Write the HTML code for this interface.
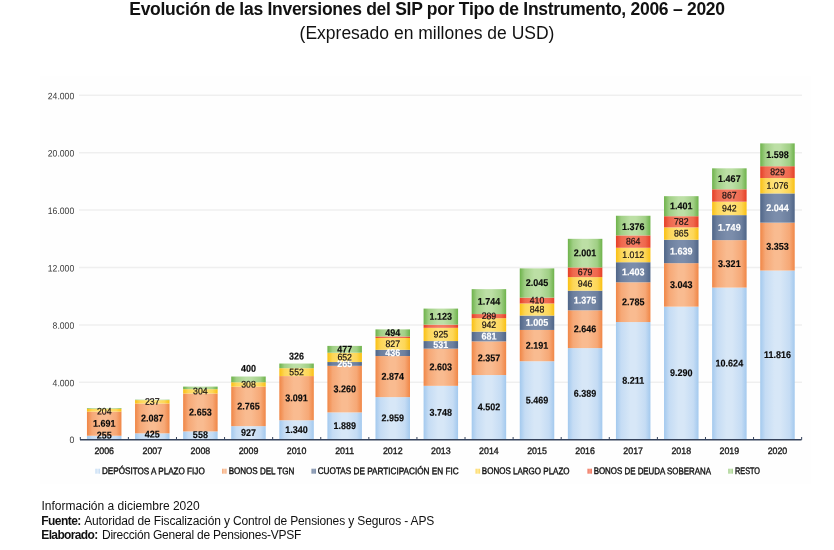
<!DOCTYPE html>
<html lang="es"><head><meta charset="utf-8"><title>Evolución de las Inversiones del SIP</title>
<style>
html,body{margin:0;padding:0;background:#fff;}
body{width:834px;height:550px;overflow:hidden;position:relative;font-family:"Liberation Sans",sans-serif;color:#111;}
.t1{position:absolute;left:0;width:854px;top:-2px;text-align:center;font-weight:bold;font-size:17.5px;letter-spacing:-0.28px;line-height:22px;white-space:nowrap;}
.t2{position:absolute;left:0;width:854px;top:21.5px;text-align:center;font-size:17.5px;line-height:22px;white-space:nowrap;}
.f{position:absolute;font-size:12px;line-height:14px;white-space:nowrap;}
svg{position:absolute;left:0;top:0;}
svg text{font-family:"Liberation Sans",sans-serif;}
.ax{font-size:9.3px;fill:#3a3a3a;}
.yr{font-size:9.3px;fill:#1a1a1a;stroke:#1a1a1a;stroke-width:0.35;}
.lb{font-size:9.8px;font-weight:bold;fill:#0a0a0a;stroke:#0a0a0a;stroke-width:0.15;}
.lw{font-size:9.8px;font-weight:bold;fill:#fff;stroke:#fff;stroke-width:0.15;}
.lr{font-size:9.5px;fill:#1a1212;stroke:#1a1212;stroke-width:0.22;}
.lg{font-size:9.5px;fill:#111;stroke:#111;stroke-width:0.4;}
</style></head><body>
<div class="t1">Evolución de las Inversiones del SIP por Tipo de Instrumento, 2006 – 2020</div>
<div class="t2">(Expresado en millones de USD)</div>
<svg width="834" height="550" viewBox="0 0 834 550">
<defs>
<linearGradient id="gb" x1="0" x2="1" y1="0" y2="0"><stop offset="0" stop-color="#a3c9ee"/><stop offset="0.15" stop-color="#c5dcf4"/><stop offset="0.42" stop-color="#d7e7f7"/><stop offset="0.58" stop-color="#d7e7f7"/><stop offset="0.85" stop-color="#c5dcf4"/><stop offset="1" stop-color="#a3c9ee"/></linearGradient>
<linearGradient id="go" x1="0" x2="1" y1="0" y2="0"><stop offset="0" stop-color="#f08646"/><stop offset="0.15" stop-color="#f6a876"/><stop offset="0.42" stop-color="#f9bb90"/><stop offset="0.58" stop-color="#f9bb90"/><stop offset="0.85" stop-color="#f6a876"/><stop offset="1" stop-color="#f08646"/></linearGradient>
<linearGradient id="gs" x1="0" x2="1" y1="0" y2="0"><stop offset="0" stop-color="#4f6587"/><stop offset="0.15" stop-color="#6c7f9e"/><stop offset="0.42" stop-color="#7b8dab"/><stop offset="0.58" stop-color="#7b8dab"/><stop offset="0.85" stop-color="#6c7f9e"/><stop offset="1" stop-color="#4f6587"/></linearGradient>
<linearGradient id="gy" x1="0" x2="1" y1="0" y2="0"><stop offset="0" stop-color="#f9c013"/><stop offset="0.15" stop-color="#fdd656"/><stop offset="0.42" stop-color="#ffe27a"/><stop offset="0.58" stop-color="#ffe27a"/><stop offset="0.85" stop-color="#fdd656"/><stop offset="1" stop-color="#f9c013"/></linearGradient>
<linearGradient id="gr" x1="0" x2="1" y1="0" y2="0"><stop offset="0" stop-color="#e53f26"/><stop offset="0.15" stop-color="#ef674d"/><stop offset="0.42" stop-color="#f47c62"/><stop offset="0.58" stop-color="#f47c62"/><stop offset="0.85" stop-color="#ef674d"/><stop offset="1" stop-color="#e53f26"/></linearGradient>
<linearGradient id="gg" x1="0" x2="1" y1="0" y2="0"><stop offset="0" stop-color="#6db24a"/><stop offset="0.15" stop-color="#a0cf85"/><stop offset="0.42" stop-color="#bcdfa5"/><stop offset="0.58" stop-color="#bcdfa5"/><stop offset="0.85" stop-color="#a0cf85"/><stop offset="1" stop-color="#6db24a"/></linearGradient>
</defs>
<rect x="40" y="76" width="771" height="408" fill="#fefefe"/>
<line x1="79" x2="802" y1="382.30" y2="382.30" stroke="#efefef" stroke-width="1.5"/>
<line x1="79" x2="802" y1="324.90" y2="324.90" stroke="#efefef" stroke-width="1.5"/>
<line x1="79" x2="802" y1="267.50" y2="267.50" stroke="#efefef" stroke-width="1.5"/>
<line x1="79" x2="802" y1="210.10" y2="210.10" stroke="#efefef" stroke-width="1.5"/>
<line x1="79" x2="802" y1="152.70" y2="152.70" stroke="#efefef" stroke-width="1.5"/>
<line x1="79" x2="802" y1="95.30" y2="95.30" stroke="#efefef" stroke-width="1.5"/>
<text class="ax" transform="translate(74.2,442.90) rotate(0.05) scale(0.93,1)" text-anchor="end">0</text>
<text class="ax" transform="translate(74.2,386.20) rotate(0.05) scale(0.93,1)" text-anchor="end">4.000</text>
<text class="ax" transform="translate(74.2,328.80) rotate(0.05) scale(0.93,1)" text-anchor="end">8.000</text>
<text class="ax" transform="translate(74.2,271.40) rotate(0.05) scale(0.93,1)" text-anchor="end">12.000</text>
<text class="ax" transform="translate(74.2,214.00) rotate(0.05) scale(0.93,1)" text-anchor="end">16.000</text>
<text class="ax" transform="translate(74.2,156.60) rotate(0.05) scale(0.93,1)" text-anchor="end">20.000</text>
<text class="ax" transform="translate(74.2,99.20) rotate(0.05) scale(0.93,1)" text-anchor="end">24.000</text>
<rect x="86.95" y="435.76" width="34.5" height="3.64" fill="url(#gb)"/>
<rect x="86.95" y="411.59" width="34.5" height="24.16" fill="url(#go)"/>
<rect x="86.95" y="408.68" width="34.5" height="2.92" fill="url(#gy)"/>
<rect x="86.95" y="408.03" width="34.5" height="0.64" fill="url(#gg)"/>
<text class="lb" transform="translate(104.20,438.60) rotate(0.05) scale(0.92,1)" text-anchor="middle">255</text>
<text class="lb" transform="translate(104.20,426.77) rotate(0.05) scale(0.92,1)" text-anchor="middle">1.691</text>
<text class="lr" transform="translate(104.20,414.60) rotate(0.05) scale(0.92,1)" text-anchor="middle">204</text>
<rect x="135.04" y="433.33" width="34.5" height="6.07" fill="url(#gb)"/>
<rect x="135.04" y="403.50" width="34.5" height="29.82" fill="url(#go)"/>
<rect x="135.04" y="400.12" width="34.5" height="3.39" fill="url(#gy)"/>
<rect x="135.04" y="399.69" width="34.5" height="0.43" fill="url(#gg)"/>
<text class="lb" transform="translate(152.29,437.50) rotate(0.05) scale(0.92,1)" text-anchor="middle">425</text>
<text class="lb" transform="translate(152.29,421.52) rotate(0.05) scale(0.92,1)" text-anchor="middle">2.087</text>
<text class="lr" transform="translate(152.29,404.81) rotate(0.05) scale(0.92,1)" text-anchor="middle">237</text>
<rect x="183.13" y="431.43" width="34.5" height="7.97" fill="url(#gb)"/>
<rect x="183.13" y="393.51" width="34.5" height="37.91" fill="url(#go)"/>
<rect x="183.13" y="389.17" width="34.5" height="4.34" fill="url(#gy)"/>
<rect x="183.13" y="386.60" width="34.5" height="2.57" fill="url(#gg)"/>
<text class="lb" transform="translate(200.38,437.90) rotate(0.05) scale(0.92,1)" text-anchor="middle">558</text>
<text class="lb" transform="translate(200.38,415.57) rotate(0.05) scale(0.92,1)" text-anchor="middle">2.653</text>
<text class="lr" transform="translate(200.38,394.34) rotate(0.05) scale(0.92,1)" text-anchor="middle">304</text>
<rect x="231.22" y="426.15" width="34.5" height="13.25" fill="url(#gb)"/>
<rect x="231.22" y="386.64" width="34.5" height="39.51" fill="url(#go)"/>
<rect x="231.22" y="382.24" width="34.5" height="4.40" fill="url(#gy)"/>
<rect x="231.22" y="376.52" width="34.5" height="5.72" fill="url(#gg)"/>
<text class="lb" transform="translate(248.47,435.88) rotate(0.05) scale(0.92,1)" text-anchor="middle">927</text>
<text class="lb" transform="translate(248.47,409.50) rotate(0.05) scale(0.92,1)" text-anchor="middle">2.765</text>
<text class="lr" transform="translate(248.47,387.44) rotate(0.05) scale(0.92,1)" text-anchor="middle">308</text>
<text class="lb" transform="translate(248.47,371.70) rotate(0.05) scale(0.92,1)" text-anchor="middle">400</text>
<rect x="279.31" y="420.25" width="34.5" height="19.15" fill="url(#gb)"/>
<rect x="279.31" y="376.08" width="34.5" height="44.17" fill="url(#go)"/>
<rect x="279.31" y="368.19" width="34.5" height="7.89" fill="url(#gy)"/>
<rect x="279.31" y="363.53" width="34.5" height="4.66" fill="url(#gg)"/>
<text class="lb" transform="translate(296.56,432.93) rotate(0.05) scale(0.92,1)" text-anchor="middle">1.340</text>
<text class="lb" transform="translate(296.56,401.27) rotate(0.05) scale(0.92,1)" text-anchor="middle">3.091</text>
<text class="lr" transform="translate(296.56,375.14) rotate(0.05) scale(0.92,1)" text-anchor="middle">552</text>
<text class="lb" transform="translate(296.56,359.50) rotate(0.05) scale(0.92,1)" text-anchor="middle">326</text>
<rect x="327.40" y="412.41" width="34.5" height="26.99" fill="url(#gb)"/>
<rect x="327.40" y="365.82" width="34.5" height="46.59" fill="url(#go)"/>
<rect x="327.40" y="362.03" width="34.5" height="3.79" fill="url(#gs)"/>
<rect x="327.40" y="352.72" width="34.5" height="9.32" fill="url(#gy)"/>
<rect x="327.40" y="345.90" width="34.5" height="6.82" fill="url(#gg)"/>
<text class="lb" transform="translate(344.65,429.00) rotate(0.05) scale(0.92,1)" text-anchor="middle">1.889</text>
<text class="lb" transform="translate(344.65,392.21) rotate(0.05) scale(0.92,1)" text-anchor="middle">3.260</text>
<text class="lw" transform="translate(344.65,367.03) rotate(0.05) scale(0.92,1)" text-anchor="middle">265</text>
<text class="lr" transform="translate(344.65,360.38) rotate(0.05) scale(0.92,1)" text-anchor="middle">652</text>
<text class="lb" transform="translate(344.65,352.41) rotate(0.05) scale(0.92,1)" text-anchor="middle">477</text>
<rect x="375.49" y="397.12" width="34.5" height="42.28" fill="url(#gb)"/>
<rect x="375.49" y="356.05" width="34.5" height="41.07" fill="url(#go)"/>
<rect x="375.49" y="349.82" width="34.5" height="6.23" fill="url(#gs)"/>
<rect x="375.49" y="338.00" width="34.5" height="11.82" fill="url(#gy)"/>
<rect x="375.49" y="336.43" width="34.5" height="1.57" fill="url(#gr)"/>
<rect x="375.49" y="329.37" width="34.5" height="7.06" fill="url(#gg)"/>
<text class="lb" transform="translate(392.74,421.36) rotate(0.05) scale(0.92,1)" text-anchor="middle">2.959</text>
<text class="lb" transform="translate(392.74,379.68) rotate(0.05) scale(0.92,1)" text-anchor="middle">2.874</text>
<text class="lw" transform="translate(392.74,356.03) rotate(0.05) scale(0.92,1)" text-anchor="middle">436</text>
<text class="lr" transform="translate(392.74,346.91) rotate(0.05) scale(0.92,1)" text-anchor="middle">827</text>
<text class="lb" transform="translate(392.74,336.00) rotate(0.05) scale(0.92,1)" text-anchor="middle">494</text>
<rect x="423.58" y="385.84" width="34.5" height="53.56" fill="url(#gb)"/>
<rect x="423.58" y="348.64" width="34.5" height="37.20" fill="url(#go)"/>
<rect x="423.58" y="341.06" width="34.5" height="7.59" fill="url(#gs)"/>
<rect x="423.58" y="327.84" width="34.5" height="13.22" fill="url(#gy)"/>
<rect x="423.58" y="324.64" width="34.5" height="3.20" fill="url(#gr)"/>
<rect x="423.58" y="308.59" width="34.5" height="16.05" fill="url(#gg)"/>
<text class="lb" transform="translate(440.83,415.72) rotate(0.05) scale(0.92,1)" text-anchor="middle">3.748</text>
<text class="lb" transform="translate(440.83,370.34) rotate(0.05) scale(0.92,1)" text-anchor="middle">2.603</text>
<text class="lw" transform="translate(440.83,347.95) rotate(0.05) scale(0.92,1)" text-anchor="middle">531</text>
<text class="lr" transform="translate(440.83,337.45) rotate(0.05) scale(0.92,1)" text-anchor="middle">925</text>
<text class="lb" transform="translate(440.83,319.71) rotate(0.05) scale(0.92,1)" text-anchor="middle">1.123</text>
<rect x="471.67" y="375.07" width="34.5" height="64.33" fill="url(#gb)"/>
<rect x="471.67" y="341.38" width="34.5" height="33.68" fill="url(#go)"/>
<rect x="471.67" y="331.65" width="34.5" height="9.73" fill="url(#gs)"/>
<rect x="471.67" y="318.19" width="34.5" height="13.46" fill="url(#gy)"/>
<rect x="471.67" y="314.06" width="34.5" height="4.13" fill="url(#gr)"/>
<rect x="471.67" y="289.14" width="34.5" height="24.92" fill="url(#gg)"/>
<text class="lb" transform="translate(488.92,410.33) rotate(0.05) scale(0.92,1)" text-anchor="middle">4.502</text>
<text class="lb" transform="translate(488.92,361.33) rotate(0.05) scale(0.92,1)" text-anchor="middle">2.357</text>
<text class="lw" transform="translate(488.92,339.62) rotate(0.05) scale(0.92,1)" text-anchor="middle">681</text>
<text class="lr" transform="translate(488.92,327.92) rotate(0.05) scale(0.92,1)" text-anchor="middle">942</text>
<text class="lr" transform="translate(488.92,319.13) rotate(0.05) scale(0.92,1)" text-anchor="middle">289</text>
<text class="lb" transform="translate(488.92,304.70) rotate(0.05) scale(0.92,1)" text-anchor="middle">1.744</text>
<rect x="519.76" y="361.25" width="34.5" height="78.15" fill="url(#gb)"/>
<rect x="519.76" y="329.94" width="34.5" height="31.31" fill="url(#go)"/>
<rect x="519.76" y="315.58" width="34.5" height="14.36" fill="url(#gs)"/>
<rect x="519.76" y="303.46" width="34.5" height="12.12" fill="url(#gy)"/>
<rect x="519.76" y="297.60" width="34.5" height="5.86" fill="url(#gr)"/>
<rect x="519.76" y="268.38" width="34.5" height="29.22" fill="url(#gg)"/>
<text class="lb" transform="translate(537.01,403.42) rotate(0.05) scale(0.92,1)" text-anchor="middle">5.469</text>
<text class="lb" transform="translate(537.01,348.69) rotate(0.05) scale(0.92,1)" text-anchor="middle">2.191</text>
<text class="lw" transform="translate(537.01,325.86) rotate(0.05) scale(0.92,1)" text-anchor="middle">1.005</text>
<text class="lr" transform="translate(537.01,312.52) rotate(0.05) scale(0.92,1)" text-anchor="middle">848</text>
<text class="lr" transform="translate(537.01,303.53) rotate(0.05) scale(0.92,1)" text-anchor="middle">410</text>
<text class="lb" transform="translate(537.01,286.09) rotate(0.05) scale(0.92,1)" text-anchor="middle">2.045</text>
<rect x="567.85" y="348.10" width="34.5" height="91.30" fill="url(#gb)"/>
<rect x="567.85" y="310.29" width="34.5" height="37.81" fill="url(#go)"/>
<rect x="567.85" y="290.64" width="34.5" height="19.65" fill="url(#gs)"/>
<rect x="567.85" y="277.12" width="34.5" height="13.52" fill="url(#gy)"/>
<rect x="567.85" y="267.42" width="34.5" height="9.70" fill="url(#gr)"/>
<rect x="567.85" y="238.83" width="34.5" height="28.59" fill="url(#gg)"/>
<text class="lb" transform="translate(585.10,396.85) rotate(0.05) scale(0.92,1)" text-anchor="middle">6.389</text>
<text class="lb" transform="translate(585.10,332.30) rotate(0.05) scale(0.92,1)" text-anchor="middle">2.646</text>
<text class="lw" transform="translate(585.10,303.57) rotate(0.05) scale(0.92,1)" text-anchor="middle">1.375</text>
<text class="lr" transform="translate(585.10,286.88) rotate(0.05) scale(0.92,1)" text-anchor="middle">946</text>
<text class="lr" transform="translate(585.10,275.27) rotate(0.05) scale(0.92,1)" text-anchor="middle">679</text>
<text class="lb" transform="translate(585.10,256.22) rotate(0.05) scale(0.92,1)" text-anchor="middle">2.001</text>
<rect x="615.94" y="322.06" width="34.5" height="117.34" fill="url(#gb)"/>
<rect x="615.94" y="282.27" width="34.5" height="39.80" fill="url(#go)"/>
<rect x="615.94" y="262.22" width="34.5" height="20.05" fill="url(#gs)"/>
<rect x="615.94" y="247.76" width="34.5" height="14.46" fill="url(#gy)"/>
<rect x="615.94" y="235.41" width="34.5" height="12.35" fill="url(#gr)"/>
<rect x="615.94" y="215.75" width="34.5" height="19.66" fill="url(#gg)"/>
<text class="lb" transform="translate(633.19,383.83) rotate(0.05) scale(0.92,1)" text-anchor="middle">8.211</text>
<text class="lb" transform="translate(633.19,305.27) rotate(0.05) scale(0.92,1)" text-anchor="middle">2.785</text>
<text class="lw" transform="translate(633.19,275.34) rotate(0.05) scale(0.92,1)" text-anchor="middle">1.403</text>
<text class="lr" transform="translate(633.19,257.99) rotate(0.05) scale(0.92,1)" text-anchor="middle">1.012</text>
<text class="lr" transform="translate(633.19,244.58) rotate(0.05) scale(0.92,1)" text-anchor="middle">864</text>
<text class="lb" transform="translate(633.19,229.90) rotate(0.05) scale(0.92,1)" text-anchor="middle">1.376</text>
<rect x="664.03" y="306.65" width="34.5" height="132.75" fill="url(#gb)"/>
<rect x="664.03" y="263.16" width="34.5" height="43.48" fill="url(#go)"/>
<rect x="664.03" y="239.74" width="34.5" height="23.42" fill="url(#gs)"/>
<rect x="664.03" y="227.38" width="34.5" height="12.36" fill="url(#gy)"/>
<rect x="664.03" y="216.20" width="34.5" height="11.17" fill="url(#gr)"/>
<rect x="664.03" y="196.18" width="34.5" height="20.02" fill="url(#gg)"/>
<text class="lb" transform="translate(681.28,376.12) rotate(0.05) scale(0.92,1)" text-anchor="middle">9.290</text>
<text class="lb" transform="translate(681.28,288.00) rotate(0.05) scale(0.92,1)" text-anchor="middle">3.043</text>
<text class="lw" transform="translate(681.28,254.55) rotate(0.05) scale(0.92,1)" text-anchor="middle">1.639</text>
<text class="lr" transform="translate(681.28,236.56) rotate(0.05) scale(0.92,1)" text-anchor="middle">865</text>
<text class="lr" transform="translate(681.28,224.79) rotate(0.05) scale(0.92,1)" text-anchor="middle">782</text>
<text class="lb" transform="translate(681.28,209.29) rotate(0.05) scale(0.92,1)" text-anchor="middle">1.401</text>
<rect x="712.12" y="287.58" width="34.5" height="151.82" fill="url(#gb)"/>
<rect x="712.12" y="240.13" width="34.5" height="47.46" fill="url(#go)"/>
<rect x="712.12" y="215.13" width="34.5" height="24.99" fill="url(#gs)"/>
<rect x="712.12" y="201.67" width="34.5" height="13.46" fill="url(#gy)"/>
<rect x="712.12" y="189.28" width="34.5" height="12.39" fill="url(#gr)"/>
<rect x="712.12" y="168.32" width="34.5" height="20.96" fill="url(#gg)"/>
<text class="lb" transform="translate(729.37,366.59) rotate(0.05) scale(0.92,1)" text-anchor="middle">10.624</text>
<text class="lb" transform="translate(729.37,266.95) rotate(0.05) scale(0.92,1)" text-anchor="middle">3.321</text>
<text class="lw" transform="translate(729.37,230.73) rotate(0.05) scale(0.92,1)" text-anchor="middle">1.749</text>
<text class="lr" transform="translate(729.37,211.40) rotate(0.05) scale(0.92,1)" text-anchor="middle">942</text>
<text class="lr" transform="translate(729.37,198.48) rotate(0.05) scale(0.92,1)" text-anchor="middle">867</text>
<text class="lb" transform="translate(729.37,181.90) rotate(0.05) scale(0.92,1)" text-anchor="middle">1.467</text>
<rect x="760.21" y="270.55" width="34.5" height="168.85" fill="url(#gb)"/>
<rect x="760.21" y="222.63" width="34.5" height="47.91" fill="url(#go)"/>
<rect x="760.21" y="193.43" width="34.5" height="29.21" fill="url(#gs)"/>
<rect x="760.21" y="178.05" width="34.5" height="15.38" fill="url(#gy)"/>
<rect x="760.21" y="166.20" width="34.5" height="11.85" fill="url(#gr)"/>
<rect x="760.21" y="143.37" width="34.5" height="22.84" fill="url(#gg)"/>
<text class="lb" transform="translate(777.46,358.07) rotate(0.05) scale(0.92,1)" text-anchor="middle">11.816</text>
<text class="lb" transform="translate(777.46,249.69) rotate(0.05) scale(0.92,1)" text-anchor="middle">3.353</text>
<text class="lw" transform="translate(777.46,211.13) rotate(0.05) scale(0.92,1)" text-anchor="middle">2.044</text>
<text class="lr" transform="translate(777.46,188.74) rotate(0.05) scale(0.92,1)" text-anchor="middle">1.076</text>
<text class="lr" transform="translate(777.46,175.13) rotate(0.05) scale(0.92,1)" text-anchor="middle">829</text>
<text class="lb" transform="translate(777.46,157.89) rotate(0.05) scale(0.92,1)" text-anchor="middle">1.598</text>
<line x1="80" x2="801.5" y1="439.79999999999995" y2="439.79999999999995" stroke="#35425a" stroke-width="1.5"/>
<line x1="80.30" x2="80.30" y1="437.0" y2="439.79999999999995" stroke="#35425a" stroke-width="1"/>
<line x1="128.39" x2="128.39" y1="437.0" y2="439.79999999999995" stroke="#35425a" stroke-width="1"/>
<line x1="176.48" x2="176.48" y1="437.0" y2="439.79999999999995" stroke="#35425a" stroke-width="1"/>
<line x1="224.57" x2="224.57" y1="437.0" y2="439.79999999999995" stroke="#35425a" stroke-width="1"/>
<line x1="272.66" x2="272.66" y1="437.0" y2="439.79999999999995" stroke="#35425a" stroke-width="1"/>
<line x1="320.75" x2="320.75" y1="437.0" y2="439.79999999999995" stroke="#35425a" stroke-width="1"/>
<line x1="368.84" x2="368.84" y1="437.0" y2="439.79999999999995" stroke="#35425a" stroke-width="1"/>
<line x1="416.93" x2="416.93" y1="437.0" y2="439.79999999999995" stroke="#35425a" stroke-width="1"/>
<line x1="465.02" x2="465.02" y1="437.0" y2="439.79999999999995" stroke="#35425a" stroke-width="1"/>
<line x1="513.11" x2="513.11" y1="437.0" y2="439.79999999999995" stroke="#35425a" stroke-width="1"/>
<line x1="561.20" x2="561.20" y1="437.0" y2="439.79999999999995" stroke="#35425a" stroke-width="1"/>
<line x1="609.29" x2="609.29" y1="437.0" y2="439.79999999999995" stroke="#35425a" stroke-width="1"/>
<line x1="657.38" x2="657.38" y1="437.0" y2="439.79999999999995" stroke="#35425a" stroke-width="1"/>
<line x1="705.47" x2="705.47" y1="437.0" y2="439.79999999999995" stroke="#35425a" stroke-width="1"/>
<line x1="753.56" x2="753.56" y1="437.0" y2="439.79999999999995" stroke="#35425a" stroke-width="1"/>
<line x1="801.65" x2="801.65" y1="437.0" y2="439.79999999999995" stroke="#35425a" stroke-width="1"/>
<text class="yr" transform="translate(104.20,453.9) rotate(0.05) scale(0.95,1)" text-anchor="middle">2006</text>
<text class="yr" transform="translate(152.29,453.9) rotate(0.05) scale(0.95,1)" text-anchor="middle">2007</text>
<text class="yr" transform="translate(200.38,453.9) rotate(0.05) scale(0.95,1)" text-anchor="middle">2008</text>
<text class="yr" transform="translate(248.47,453.9) rotate(0.05) scale(0.95,1)" text-anchor="middle">2009</text>
<text class="yr" transform="translate(296.56,453.9) rotate(0.05) scale(0.95,1)" text-anchor="middle">2010</text>
<text class="yr" transform="translate(344.65,453.9) rotate(0.05) scale(0.95,1)" text-anchor="middle">2011</text>
<text class="yr" transform="translate(392.74,453.9) rotate(0.05) scale(0.95,1)" text-anchor="middle">2012</text>
<text class="yr" transform="translate(440.83,453.9) rotate(0.05) scale(0.95,1)" text-anchor="middle">2013</text>
<text class="yr" transform="translate(488.92,453.9) rotate(0.05) scale(0.95,1)" text-anchor="middle">2014</text>
<text class="yr" transform="translate(537.01,453.9) rotate(0.05) scale(0.95,1)" text-anchor="middle">2015</text>
<text class="yr" transform="translate(585.10,453.9) rotate(0.05) scale(0.95,1)" text-anchor="middle">2016</text>
<text class="yr" transform="translate(633.19,453.9) rotate(0.05) scale(0.95,1)" text-anchor="middle">2017</text>
<text class="yr" transform="translate(681.28,453.9) rotate(0.05) scale(0.95,1)" text-anchor="middle">2018</text>
<text class="yr" transform="translate(729.37,453.9) rotate(0.05) scale(0.95,1)" text-anchor="middle">2019</text>
<text class="yr" transform="translate(777.46,453.9) rotate(0.05) scale(0.95,1)" text-anchor="middle">2020</text>
<rect x="95.5" y="468.7" width="4.5" height="5" fill="url(#gb)" opacity="0.8"/>
<text class="lg" transform="translate(102,474.1) rotate(0.05)" textLength="102.7" lengthAdjust="spacingAndGlyphs">DEPÓSITOS A PLAZO FIJO</text>
<rect x="222" y="468.7" width="4.5" height="5" fill="url(#go)" opacity="0.8"/>
<text class="lg" transform="translate(228.7,474.1) rotate(0.05)" textLength="65.6" lengthAdjust="spacingAndGlyphs">BONOS DEL TGN</text>
<rect x="311.5" y="468.7" width="4.5" height="5" fill="url(#gs)" opacity="0.8"/>
<text class="lg" transform="translate(317.7,474.1) rotate(0.05)" textLength="140.9" lengthAdjust="spacingAndGlyphs">CUOTAS DE PARTICIPACIÓN EN FIC</text>
<rect x="475.6" y="468.7" width="4.5" height="5" fill="url(#gy)" opacity="0.8"/>
<text class="lg" transform="translate(481.8,474.1) rotate(0.05)" textLength="87.8" lengthAdjust="spacingAndGlyphs">BONOS LARGO PLAZO</text>
<rect x="587.5" y="468.7" width="4.5" height="5" fill="url(#gr)" opacity="0.8"/>
<text class="lg" transform="translate(593.7,474.1) rotate(0.05)" textLength="117.3" lengthAdjust="spacingAndGlyphs">BONOS DE DEUDA SOBERANA</text>
<rect x="728.4" y="468.7" width="4.5" height="5" fill="url(#gg)" opacity="0.8"/>
<text class="lg" transform="translate(735,474.1) rotate(0.05)" textLength="25.0" lengthAdjust="spacingAndGlyphs">RESTO</text>
</svg>
<div class="f" style="left:41.5px;top:498.9px;">Información a diciembre 2020</div>
<div class="f" style="left:41.3px;top:514px;"><b style="letter-spacing:-0.55px">Fuente:</b></div><div class="f" style="left:84.2px;top:514px;letter-spacing:-0.136px">Autoridad de Fiscalización y Control de Pensiones y Seguros - APS</div>
<div class="f" style="left:41.3px;top:528.2px;"><b style="letter-spacing:-0.64px">Elaborado:</b></div><div class="f" style="left:102px;top:528.2px;letter-spacing:-0.24px">Dirección General de Pensiones-VPSF</div>
</body></html>
